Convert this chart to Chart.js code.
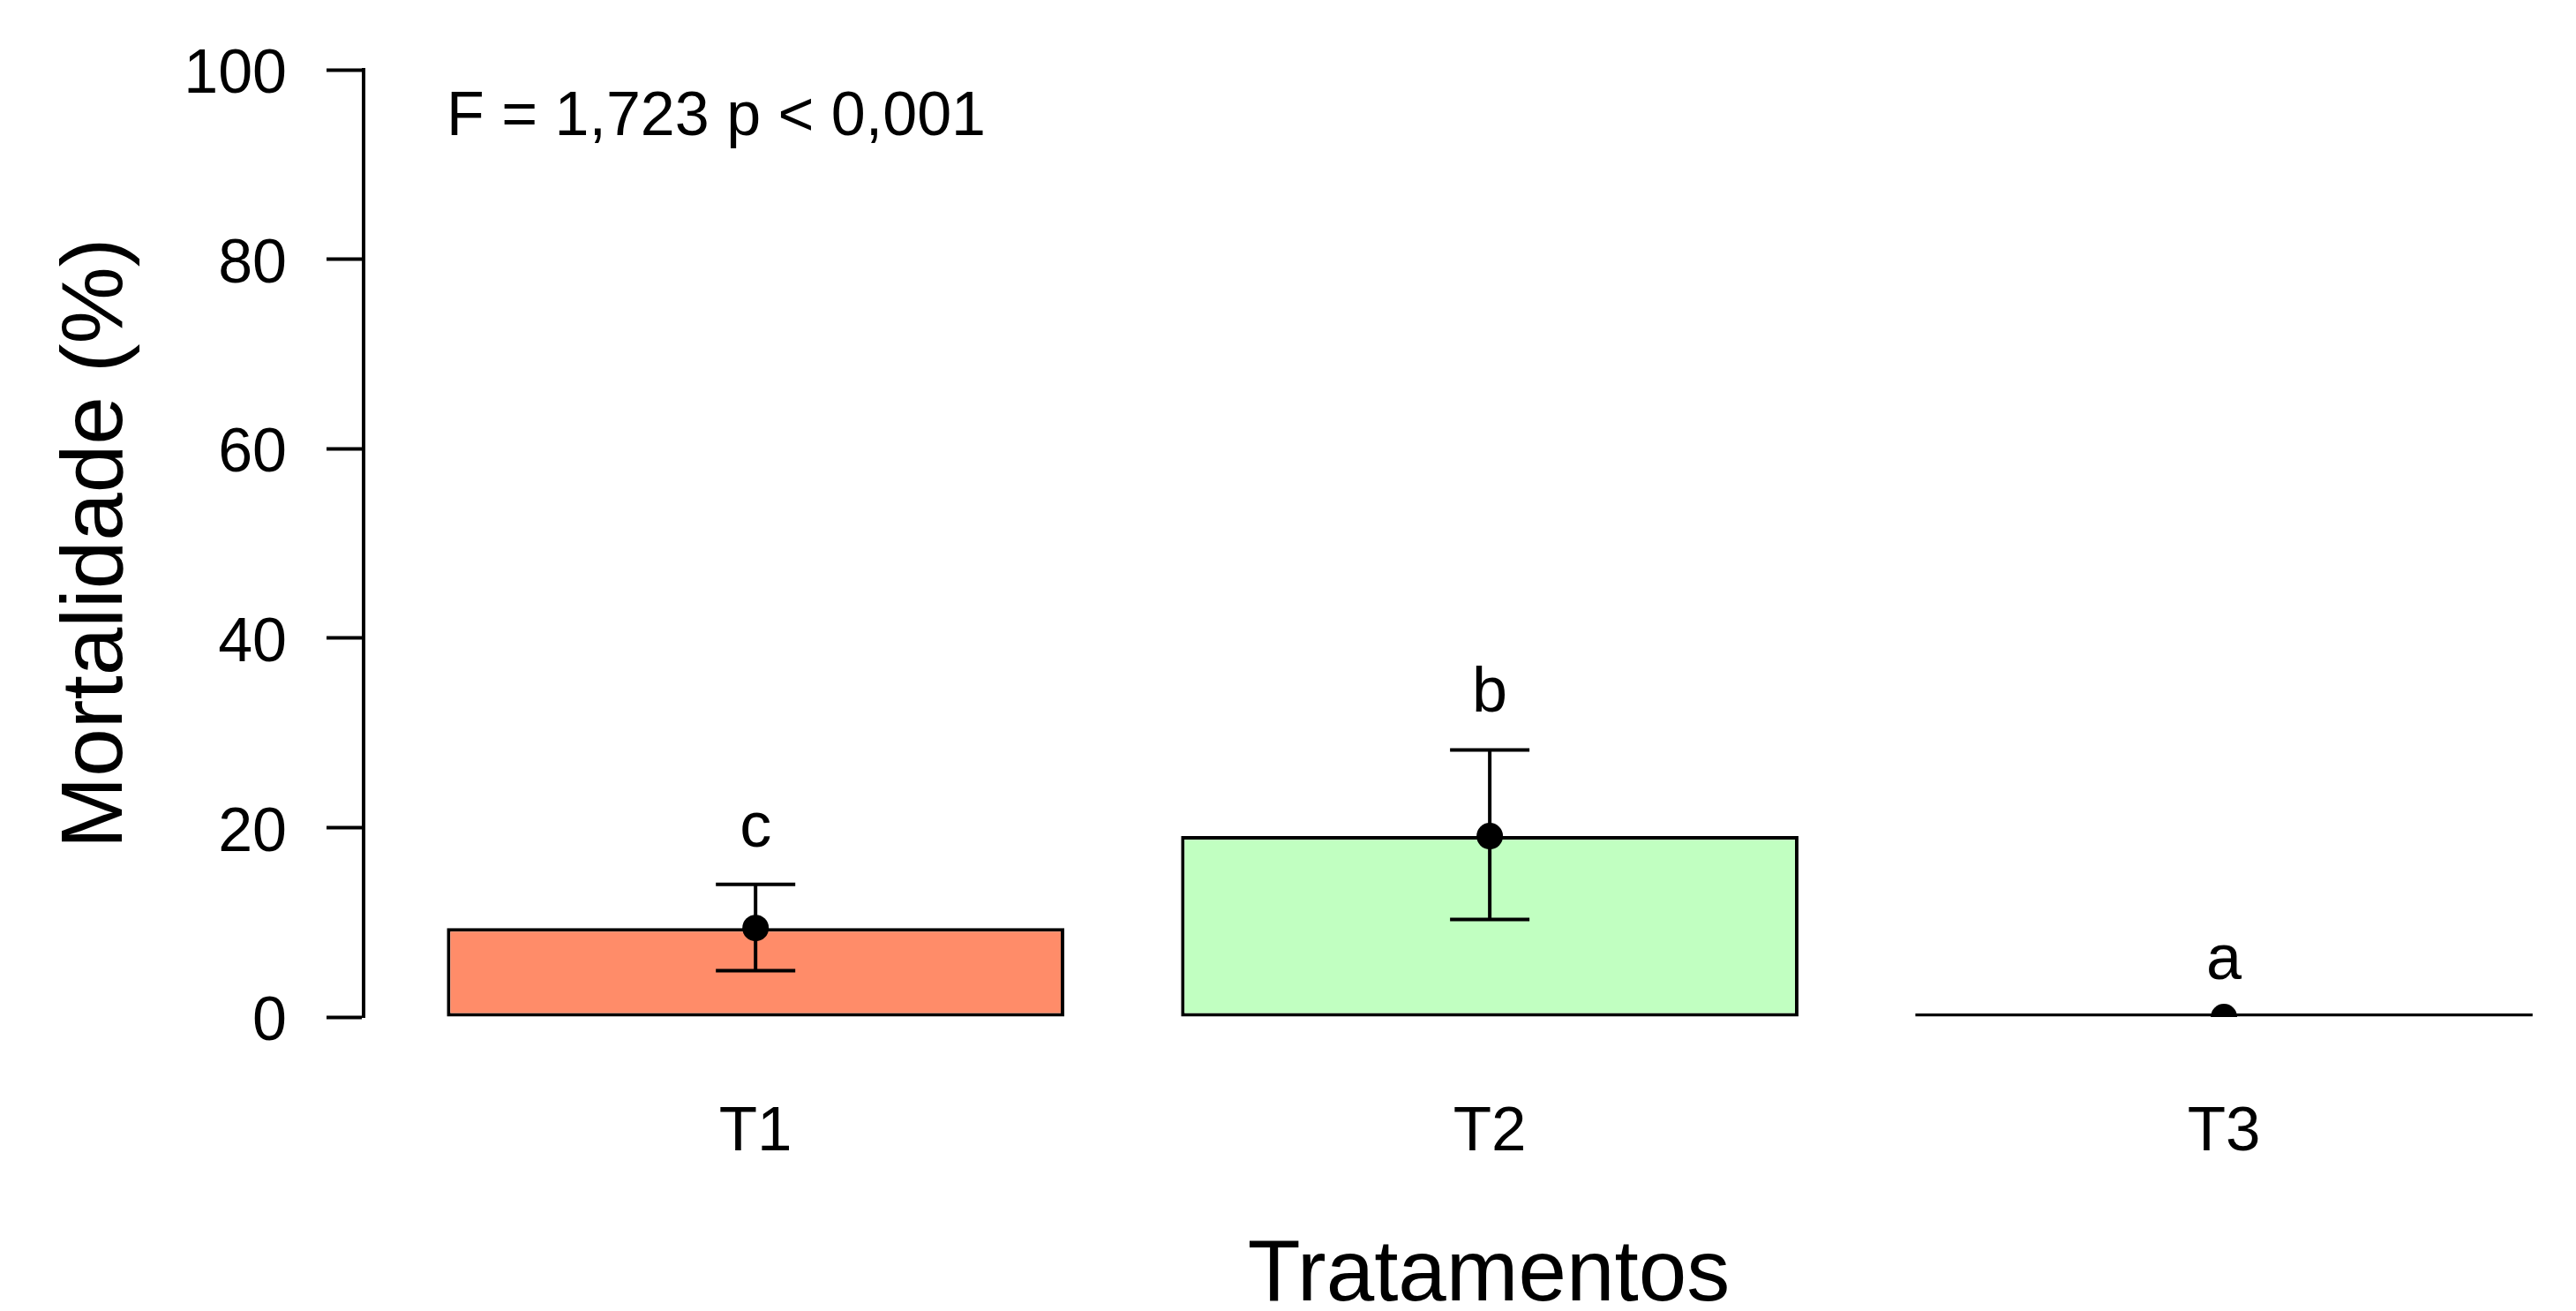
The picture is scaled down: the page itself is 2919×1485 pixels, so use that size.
<!DOCTYPE html>
<html><head><meta charset="utf-8">
<script src="https://cdn.jsdelivr.net/npm/chart.js@4"></script>
<style>html,body{margin:0;padding:0;background:#fff;overflow:hidden;width:2919px;height:1485px}canvas{display:block}</style>
</head><body>
<canvas id="c" width="2977" height="1485" style="width:2977px;height:1485px"></canvas>
<script>
// ---- data ----
const categories = ['T1', 'T2', 'T3'];
const means = [9.4, 19.1, 0];
const errLow = [4.9, 10.3, 0];
const errHigh = [14.0, 28.2, 0];
const groupLetters = ['c', 'b', 'a'];
const barColors = ['#FF8C69', '#C1FFC1', '#FFFFFF'];
const yTickValues = [0, 20, 40, 60, 80, 100];
const annotationText = 'F = 1,723 p < 0,001';
const xTitle = 'Tratamentos';
const yTitle = 'Mortalidade (%)';

const FONT = "'Liberation Sans', Arial, sans-serif";
const positions = categories.map((_, i) => i + 1);

const extrasPlugin = {
  id: 'extras',
  afterDatasetsDraw(chart) {
    const { ctx, scales: { x, y }, chartArea } = chart;
    ctx.save();
    ctx.strokeStyle = '#000';
    ctx.fillStyle = '#000';
    ctx.lineWidth = 4;
    positions.forEach((p, i) => {
      if (errHigh[i] === errLow[i]) return;
      const px = x.getPixelForValue(p);
      const yl = y.getPixelForValue(errLow[i]);
      const yh = y.getPixelForValue(errHigh[i]);
      ctx.beginPath();
      ctx.moveTo(px, yl); ctx.lineTo(px, yh);
      ctx.moveTo(px - 45, yl); ctx.lineTo(px + 45, yl);
      ctx.moveTo(px - 45, yh); ctx.lineTo(px + 45, yh);
      ctx.stroke();
    });
    ctx.font = '72px ' + FONT;
    ctx.textAlign = 'center';
    ctx.textBaseline = 'alphabetic';
    positions.forEach((p, i) => {
      ctx.fillText(groupLetters[i], x.getPixelForValue(p), y.getPixelForValue(errHigh[i] + 4));
    });
    ctx.font = '70px ' + FONT;
    ctx.textAlign = 'left';
    ctx.fillText(annotationText, chartArea.left + 94, chartArea.top + 74);
    ctx.restore();
  }
};

new Chart(document.getElementById('c'), {
  type: 'bar',
  data: {
    datasets: [
      {
        type: 'line',
        data: positions.map((p, i) => ({ x: p, y: means[i] })),
        showLine: false,
        pointRadius: 15,
        pointBackgroundColor: '#000',
        pointBorderColor: '#000',
        pointBorderWidth: 0,
        order: 0
      },
      {
        type: 'bar',
        data: positions.map((p, i) => ({ x: p, y: means[i] })),
        backgroundColor: barColors,
        borderColor: '#000',
        borderWidth: 4,
        borderSkipped: false,
        minBarLength: 4,
        categoryPercentage: 1,
        barPercentage: 0.841,
        order: 1
      }
    ]
  },
  options: {
    responsive: false,
    animation: false,
    devicePixelRatio: 1,
    layout: { padding: { top: 79, left: 0, right: 0, bottom: 0 } },
    plugins: { legend: { display: false }, tooltip: { enabled: false } },
    scales: {
      x: {
        type: 'linear',
        offset: false,
        min: 0.4661,
        max: 3.5312,
        afterBuildTicks: s => { s.ticks = positions.map(v => ({ value: v })); },
        afterFit: s => { s.height = 333; s.paddingLeft = 0; s.paddingRight = 0; },
        ticks: {
          callback: v => categories[Math.round(v) - 1],
          font: { family: FONT, size: 71 },
          color: '#000',
          padding: 81,
          autoSkip: false,
          maxRotation: 0
        },
        grid: { display: false, offset: false },
        border: { display: false },
        title: {
          display: true,
          text: xTitle,
          color: '#000',
          font: { family: FONT, size: 98, lineHeight: 0.8 },
          padding: 0
        }
      },
      y: {
        min: 0,
        max: 100,
        afterBuildTicks: s => { s.ticks = yTickValues.map(v => ({ value: v })); },
        afterFit: s => { s.width = 412; s.paddingTop = 0; s.paddingBottom = 0; },
        ticks: {
          font: { family: FONT, size: 70 },
          color: '#000',
          padding: 45,
          labelOffset: 7
        },
        grid: { drawOnChartArea: false, drawTicks: true, tickLength: 42, tickWidth: 4, tickColor: '#000' },
        border: { display: true, color: '#000', width: 4 },
        title: {
          display: true,
          text: yTitle,
          color: '#000',
          font: { family: FONT, size: 98, lineHeight: 1.2 },
          padding: { top: 52, bottom: 0 }
        }
      }
    }
  },
  plugins: [extrasPlugin]
});
</script>
</body></html>
